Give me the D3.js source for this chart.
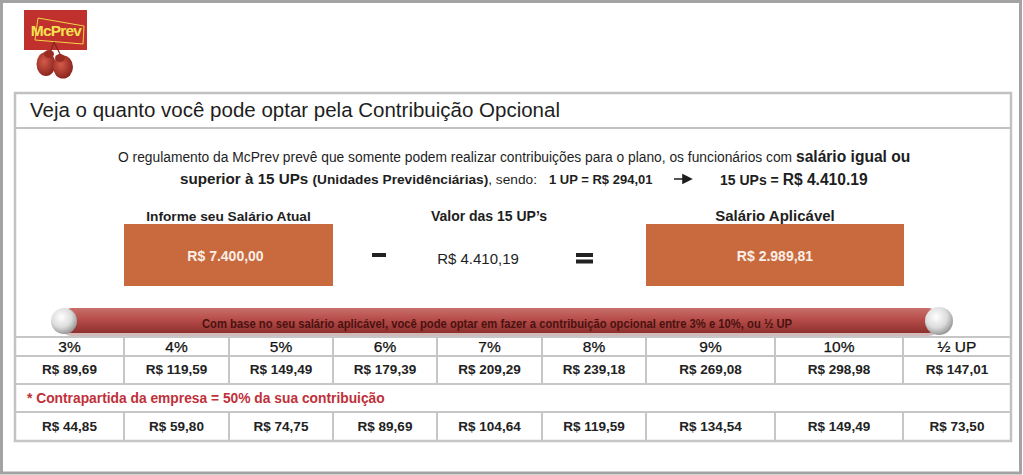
<!DOCTYPE html>
<html><head><meta charset="utf-8">
<script src="https://cdn.jsdelivr.net/npm/d3@7"></script>
<style>
html,body{margin:0;padding:0;background:#fff;}
svg{display:block;font-family:"Liberation Sans",Arial,Helvetica,sans-serif;}
</style></head>
<body>
<script>
// ---------- data ----------
const percentLabels = ["3%","4%","5%","6%","7%","8%","9%","10%","½ UP"];
const contribValues = [89.69,119.59,149.49,179.39,209.29,239.18,269.08,298.98,147.01];
const companyValues = [44.85,59.80,74.75,89.69,104.64,119.59,134.54,149.49,73.50];
const salaryCurrent = 7400.00;
const upTotalValue = 4410.19;
const salaryApplicable = 2989.81;
const titleText = "Veja o quanto você pode optar pela Contribuição Opcional";
const barText = "Com base no seu salário aplicável, você pode optar em fazer a contribuição opcional entre 3% e 10%, ou ½ UP";
const companyNote = "* Contrapartida da empresa = 50% da sua contribuição";

// ---------- layout ----------
const W = 1023, H = 475;
const colEdges = [15,124,229,333,437,542,646,775,903,1011];
const ptBR = d3.formatLocale({decimal:",",thousands:".",grouping:[3],currency:["R$ ",""]});
const money = ptBR.format("$,.2f");

const svg = d3.select("body").append("svg").attr("width",W).attr("height",H);
const defs = svg.append("defs");

const barGrad = defs.append("linearGradient").attr("id","barGrad").attr("x1",0).attr("y1",0).attr("x2",0).attr("y2",1);
barGrad.append("stop").attr("offset","0%").attr("stop-color","#c9706a");
barGrad.append("stop").attr("offset","45%").attr("stop-color","#b74d4a");
barGrad.append("stop").attr("offset","100%").attr("stop-color","#8e302e");
const sphereGrad = defs.append("radialGradient").attr("id","sph").attr("cx","40%").attr("cy","35%").attr("r","65%");
sphereGrad.append("stop").attr("offset","0%").attr("stop-color","#ffffff");
sphereGrad.append("stop").attr("offset","60%").attr("stop-color","#dcdcdc");
sphereGrad.append("stop").attr("offset","100%").attr("stop-color","#9a9a9a");
const shoeGrad = defs.append("radialGradient").attr("id","shoe").attr("cx","40%").attr("cy","40%").attr("r","60%");
shoeGrad.append("stop").attr("offset","0%").attr("stop-color","#d45a4a");
shoeGrad.append("stop").attr("offset","100%").attr("stop-color","#8e2620");

// outer border
svg.append("rect").attr("x",1.5).attr("y",1.5).attr("width",W-4).attr("height",H-3.5)
  .attr("fill","#fff").attr("stroke","#a3a3a3").attr("stroke-width",3);

// ---------- logo ----------
const logo = svg.append("g");
logo.append("rect").attr("x",24).attr("y",10).attr("width",63).attr("height",40).attr("fill","#c0302c");
logo.append("path").attr("d","M38,18 L84,26 L83,44 L35,40 Z").attr("fill","none").attr("stroke","#f2d34a").attr("stroke-width",1);
logo.append("text").attr("x",56).attr("y",36).attr("text-anchor","middle")
  .attr("font-size",15.5).attr("font-weight","bold").attr("fill","#f4e150").attr("letter-spacing",-0.8).text("McPrev");
logo.append("path").attr("d","M54,42 L50,53 M54,42 L61,56").attr("stroke","#7a2a20").attr("stroke-width",1.2).attr("fill","none");
logo.append("ellipse").attr("cx",46).attr("cy",64).attr("rx",9.5).attr("ry",12).attr("fill","url(#shoe)");
logo.append("ellipse").attr("cx",63).attr("cy",67).attr("rx",10).attr("ry",11.5).attr("fill","url(#shoe)");
logo.append("ellipse").attr("cx",49).attr("cy",54).attr("rx",5).attr("ry",4).attr("fill","#9a2c24");
logo.append("ellipse").attr("cx",60).attr("cy",58).attr("rx",5).attr("ry",4).attr("fill","#9a2c24");

// ---------- panel ----------
svg.append("rect").attr("x",15).attr("y",93).attr("width",996).attr("height",348)
  .attr("fill","#fff").attr("stroke","#c2c2c2").attr("stroke-width",2.5);
svg.append("line").attr("x1",15).attr("x2",1011).attr("y1",128).attr("y2",128)
  .attr("stroke","#c2c2c2").attr("stroke-width",2);
svg.append("text").attr("x",30).attr("y",117).attr("font-size",20.5).attr("fill","#1e1e1e").text(titleText);

// intro text
const l1 = svg.append("text").attr("x",118).attr("y",162).attr("fill","#1e1e1e").attr("font-size",13.8);
l1.append("tspan").text("O regulamento da McPrev prevê que somente podem realizar contribuições para o plano, os funcionários com ");
l1.append("tspan").attr("font-weight","bold").attr("font-size",15.6).text("salário igual ou");

const l2 = svg.append("text").attr("x",180).attr("y",184).attr("fill","#1e1e1e").attr("font-size",13.7);
l2.append("tspan").attr("font-weight","bold").attr("font-size",15.2).text("superior à 15 UPs ");
l2.append("tspan").attr("font-weight","bold").attr("font-size",13.7).text("(Unidades Previdênciárias)");
l2.append("tspan").text(", sendo:");
svg.append("text").attr("x",549).attr("y",184).attr("fill","#1e1e1e").attr("font-size",13).attr("font-weight","bold")
  .text("1 UP = R$ 294,01");
svg.append("path").attr("d","M674,179 L684,179 M683,175 L691,179 L683,183 Z").attr("stroke","#1e1e1e").attr("stroke-width",1.6).attr("fill","#1e1e1e");
const l3 = svg.append("text").attr("x",720).attr("y",185).attr("fill","#1e1e1e").attr("font-weight","bold");
l3.append("tspan").attr("font-size",14).text("15 UPs = ");
l3.append("tspan").attr("font-size",15.6).text("R$ 4.410.19");

// ---------- calculation row ----------
const boxes = [
  {label:"Informe seu Salário Atual", value:salaryCurrent, x0:124, x1:333, box:true, fs:13.7},
  {label:"Valor das 15 UP’s", value:upTotalValue, x0:433, x1:545, box:false, fs:14},
  {label:"Salário Aplicável", value:salaryApplicable, x0:646, x1:904, box:true, fs:15}
];
const calc = svg.selectAll("g.calc").data(boxes).join("g").attr("class","calc");
calc.filter(d=>d.box).append("rect").attr("x",d=>d.x0).attr("y",224).attr("width",d=>d.x1-d.x0).attr("height",62).attr("fill","#c86a3e");
calc.append("text").attr("x",d=>(d.x0+d.x1)/2).attr("y",221).attr("text-anchor","middle")
  .attr("font-size",d=>d.fs).attr("font-weight","bold").attr("fill","#1e1e1e").text(d=>d.label);
calc.append("text").attr("x",d=>d.box?(d.x0+d.x1)/2 - (d.x0<200?3:0):478).attr("y",d=>d.box?261:264).attr("text-anchor","middle")
  .attr("font-size",d=>d.box?14:15).attr("font-weight",d=>d.box?"bold":"normal")
  .attr("fill",d=>d.box?"#fbeee6":"#1e1e1e").text(d=>money(d.value));
// operators
svg.append("rect").attr("x",372).attr("y",253).attr("width",14).attr("height",4).attr("fill","#222");
svg.append("rect").attr("x",576).attr("y",253).attr("width",17).attr("height",4).attr("fill","#222");
svg.append("rect").attr("x",576).attr("y",259.5).attr("width",17).attr("height",4).attr("fill","#222");

// ---------- red bar ----------
svg.append("rect").attr("x",60).attr("y",311).attr("width",880).attr("height",25).attr("rx",12).attr("fill","#7a3a38").attr("opacity",0.35);
svg.append("rect").attr("x",60).attr("y",308).attr("width",880).attr("height",25).attr("rx",12).attr("fill","url(#barGrad)");
svg.append("circle").attr("cx",64).attr("cy",321).attr("r",13).attr("fill","url(#sph)");
svg.append("circle").attr("cx",939).attr("cy",321).attr("r",14).attr("fill","url(#sph)");
svg.append("text").attr("x",202).attr("y",328).attr("font-family","'Liberation Sans Narrow','Arial Narrow',sans-serif")
  .attr("font-size",13).attr("font-weight","bold").attr("fill","#4a1210")
  .attr("textLength",590).attr("lengthAdjust","spacingAndGlyphs").text(barText);

// ---------- table ----------
const xLeft = d3.scaleOrdinal().domain(percentLabels).range(colEdges.slice(0,-1));
const xRight = d3.scaleOrdinal().domain(percentLabels).range(colEdges.slice(1));
const cx = d => (xLeft(d)+xRight(d))/2;
const gridColor = "#c6c6c6";
const tbl = svg.append("g");
[337,356,384,412,441].forEach(y=>{
  tbl.append("line").attr("x1",15).attr("x2",1011).attr("y1",y).attr("y2",y).attr("stroke",gridColor).attr("stroke-width",2);
});
const inner = colEdges.slice(1,-1);
tbl.selectAll("line.v1").data(inner).join("line").attr("class","v1")
  .attr("x1",d=>d).attr("x2",d=>d).attr("y1",337).attr("y2",384).attr("stroke",gridColor).attr("stroke-width",2);
tbl.selectAll("line.v2").data(inner).join("line").attr("class","v2")
  .attr("x1",d=>d).attr("x2",d=>d).attr("y1",412).attr("y2",441).attr("stroke",gridColor).attr("stroke-width",2);

tbl.selectAll("text.hdr").data(percentLabels).join("text").attr("class","hdr")
  .attr("x",d=>cx(d)).attr("y",352).attr("text-anchor","middle").attr("font-size",15.5).attr("fill","#111")
  .attr("stroke","#111").attr("stroke-width",0.25).text(d=>d);
tbl.selectAll("text.val").data(contribValues).join("text").attr("class","val")
  .attr("x",(d,i)=>cx(percentLabels[i])).attr("y",374).attr("text-anchor","middle")
  .attr("font-size",13.5).attr("font-weight","bold").attr("fill","#222").text(d=>money(d));
tbl.append("text").attr("x",27).attr("y",403).attr("font-size",13.8).attr("font-weight","bold").attr("fill","#c0303a").text(companyNote);
tbl.selectAll("text.comp").data(companyValues).join("text").attr("class","comp")
  .attr("x",(d,i)=>cx(percentLabels[i])).attr("y",431).attr("text-anchor","middle")
  .attr("font-size",13.5).attr("font-weight","bold").attr("fill","#222").text(d=>money(d));
</script>
</body></html>
